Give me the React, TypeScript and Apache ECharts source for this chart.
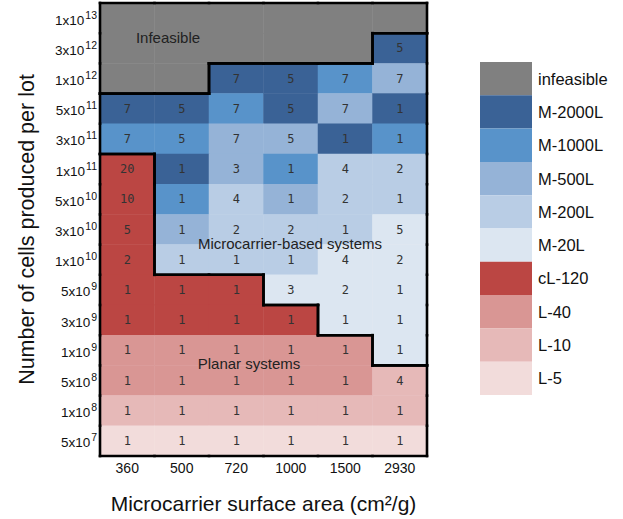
import React, { useEffect, useRef } from 'react';
import * as echarts from 'echarts';

const xCategories = ['360', '500', '720', '1000', '1500', '2930'];
const yCategories = [
  '1x10^13', '3x10^12', '1x10^12', '5x10^11', '3x10^11', '1x10^11', '5x10^10',
  '3x10^10', '1x10^10', '5x10^9', '3x10^9', '1x10^9', '5x10^8', '1x10^8', '5x10^7',
];
const classNames = ['infeasible', 'M-2000L', 'M-1000L', 'M-500L', 'M-200L', 'M-20L', 'cL-120', 'L-40', 'L-10', 'L-5'];
const classColors = ['#808080', '#3a6296', '#5893ca', '#95b3d7', '#b9cde5', '#dce6f1', '#bb4643', '#d99694', '#e6b9b8', '#f2dcdb'];
// group of each class: 0 infeasible, 1 microcarrier, 2 planar
const classGroups = [0, 1, 1, 1, 1, 1, 2, 2, 2, 2];

// rows top → bottom, columns as xCategories
const cellClass: number[][] = [
  [0, 0, 0, 0, 0, 0],
  [0, 0, 0, 0, 0, 1],
  [0, 0, 1, 1, 2, 3],
  [1, 1, 2, 1, 3, 1],
  [2, 2, 3, 3, 1, 2],
  [6, 1, 3, 2, 4, 4],
  [6, 2, 4, 3, 4, 4],
  [6, 3, 4, 4, 4, 5],
  [6, 4, 4, 4, 5, 5],
  [6, 6, 6, 5, 5, 5],
  [6, 6, 6, 6, 5, 5],
  [7, 7, 7, 7, 7, 5],
  [7, 7, 7, 7, 7, 8],
  [8, 8, 8, 8, 8, 8],
  [9, 9, 9, 9, 9, 9],
];
const cellCount: (number | null)[][] = [
  [null, null, null, null, null, null],
  [null, null, null, null, null, 5],
  [null, null, 7, 5, 7, 7],
  [7, 5, 7, 5, 7, 1],
  [7, 5, 7, 5, 1, 1],
  [20, 1, 3, 1, 4, 2],
  [10, 1, 4, 1, 2, 1],
  [5, 1, 2, 2, 1, 5],
  [2, 1, 1, 1, 4, 2],
  [1, 1, 1, 3, 2, 1],
  [1, 1, 1, 1, 1, 1],
  [1, 1, 1, 1, 1, 1],
  [1, 1, 1, 1, 1, 4],
  [1, 1, 1, 1, 1, 1],
  [1, 1, 1, 1, 1, 1],
];
const regionLabels = ['Infeasible', 'Microcarrier-based systems', 'Planar systems'];
const xTitle = 'Microcarrier surface area (cm\u00B2/g)';
const yTitle = 'Number of cells produced per lot';

const SANS = '"Liberation Sans", Arial, sans-serif';

export default function App() {
  const ref = useRef<HTMLDivElement>(null);
  useEffect(() => {
    if (!ref.current) return;
    const chart = echarts.init(ref.current, undefined, { renderer: 'svg' });

    const heatData: any[] = [];
    const borderData: any[] = [];
    const nR = cellClass.length;
    const nC = xCategories.length;
    const grp = (r: number, c: number) => classGroups[cellClass[r][c]];
    for (let r = 0; r < nR; r++) {
      for (let c = 0; c < nC; c++) {
        heatData.push([c, r, cellClass[r][c], cellCount[r][c]]);
        const g = grp(r, c);
        const top = r === 0 || grp(r - 1, c) !== g ? 1 : 0;
        const bottom = r === nR - 1 || grp(r + 1, c) !== g ? 1 : 0;
        const left = c === 0 || grp(r, c - 1) !== g ? 1 : 0;
        const right = c === nC - 1 || grp(r, c + 1) !== g ? 1 : 0;
        if (top || bottom || left || right) borderData.push([c, r, top, right, bottom, left]);
      }
    }

    const option: any = {
      animation: false,
      backgroundColor: '#ffffff',
      grid: { left: 100, top: 3, right: 196, bottom: 63, outerBoundsMode: 'none' },
      xAxis: {
        type: 'category',
        data: xCategories,
        axisLine: { show: false },
        axisTick: { show: false },
        splitLine: { show: false },
        axisLabel: { fontSize: 14, color: '#111', margin: 5, fontFamily: SANS },
        name: xTitle,
        nameLocation: 'middle',
        nameGap: 37,
        nameTextStyle: { fontSize: 21, color: '#111', fontFamily: SANS },
      },
      yAxis: {
        type: 'category',
        data: yCategories,
        inverse: true,
        axisLine: { show: false },
        axisTick: { show: false },
        splitLine: { show: false },
        axisLabel: {
          margin: 3,
          formatter: (v: string) => {
            const [base, exp] = v.split('^');
            return `{b|${base}}{s|${exp}}`;
          },
          rich: {
            b: { fontSize: 13.5, color: '#111', fontFamily: SANS, lineHeight: 18, verticalAlign: 'bottom' },
            s: { fontSize: 10.5, color: '#111', fontFamily: SANS, lineHeight: 10, verticalAlign: 'top', padding: [0, 0, 0, 1] },
          },
        },
        name: yTitle,
        nameLocation: 'middle',
        nameGap: 62,
        nameTextStyle: { fontSize: 21.5, color: '#111', fontFamily: SANS },
      },
      visualMap: {
        type: 'piecewise',
        seriesIndex: 0,
        dimension: 2,
        orient: 'vertical',
        inverse: true,
        left: 465,
        top: 47,
        itemWidth: 52,
        itemHeight: 33.3,
        itemGap: 0,
        itemSymbol: 'rect',
        textGap: 6,
        align: 'left',
        selectedMode: false,
        hoverLink: false,
        pieces: classNames.map((n, i) => ({ value: i, label: n, color: classColors[i] })),
        textStyle: { fontSize: 16.5, color: '#111', fontFamily: SANS },
      },
      series: [
        {
          type: 'heatmap',
          data: heatData,
          encode: { x: 0, y: 1 },
          itemStyle: { borderWidth: 0 },
          emphasis: { disabled: true },
          label: {
            show: true,
            color: '#333',
            fontSize: 12,
            fontFamily: '"DejaVu Sans Mono", monospace',
            formatter: (p: any) => (p.data[3] == null ? '' : String(p.data[3])),
          },
        },
        {
          type: 'custom',
          data: borderData,
          encode: { x: 0, y: 1 },
          silent: true,
          clip: false,
          z: 10,
          renderItem: (params: any, api: any) => {
            const c = api.value(0);
            const r = api.value(1);
            const pt = api.coord([c, r]);
            const sz = api.size([1, 1]);
            const x0 = pt[0] - sz[0] / 2;
            const x1 = pt[0] + sz[0] / 2;
            const y0 = pt[1] - sz[1] / 2;
            const y1 = pt[1] + sz[1] / 2;
            const st = { stroke: '#000', lineWidth: 2.6, lineCap: 'square' };
            const children: any[] = [];
            if (api.value(2)) children.push({ type: 'line', shape: { x1: x0, y1: y0, x2: x1, y2: y0 }, style: st });
            if (api.value(3)) children.push({ type: 'line', shape: { x1: x1, y1: y0, x2: x1, y2: y1 }, style: st });
            if (api.value(4)) children.push({ type: 'line', shape: { x1: x0, y1: y1, x2: x1, y2: y1 }, style: st });
            if (api.value(5)) children.push({ type: 'line', shape: { x1: x0, y1: y0, x2: x0, y2: y1 }, style: st });
            return { type: 'group', children };
          },
        },
      ],
      graphic: [
        {
          type: 'text', x: 168, y: 37, z: 100,
          style: { text: regionLabels[0], align: 'center', verticalAlign: 'middle', fontSize: 15, fill: '#222', fontFamily: SANS },
        },
        {
          type: 'text', x: 290, y: 243, z: 100,
          style: { text: regionLabels[1], align: 'center', verticalAlign: 'middle', fontSize: 15, fill: '#222', fontFamily: SANS },
        },
        {
          type: 'text', x: 249, y: 363, z: 100,
          style: { text: regionLabels[2], align: 'center', verticalAlign: 'middle', fontSize: 15, fill: '#222', fontFamily: SANS },
        },
      ],
    };
    chart.setOption(option);
    return () => chart.dispose();
  }, []);
  return (
    <div
      ref={ref}
      style={{ position: 'fixed', left: 0, top: 0, width: 623, height: 519, background: '#fff' }}
    />
  );
}
